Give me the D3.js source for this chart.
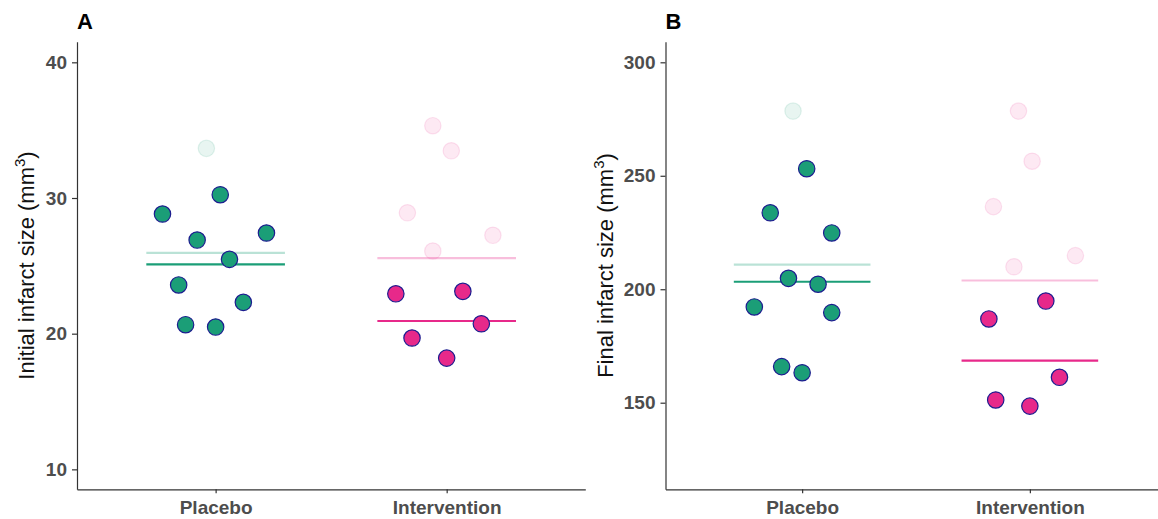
<!DOCTYPE html>
<html>
<head>
<meta charset="utf-8">
<script src="https://cdn.jsdelivr.net/npm/d3@7.9.0/dist/d3.min.js"></script>
<style>
  body { margin: 0; background: #fff; }
  svg { display: block; font-family: "Liberation Sans", Arial, sans-serif; }
  .axis path, .axis line { stroke: #333; stroke-width: 1.2; }
  .axis text { fill: #4d4d4d; font-size: 19px; font-weight: bold; }
</style>
</head>
<body>
<svg id="chart" width="1158" height="519"></svg>
<script>
const groups = ["Placebo", "Intervention"];
const groupColors = ["#1b9e77", "#e7298a"];

// panel A - initial infarct size
const initialPlacebo = [33.66, 30.24, 28.82, 26.90, 27.42, 25.48, 23.59, 22.31, 20.66, 20.49];
const initialPlaceboJitter = [-0.04, 0.02, -0.23, -0.08, 0.22, 0.06, -0.16, 0.12, -0.13, 0.0];
const initialIntervention = [35.33, 33.48, 28.91, 27.25, 26.09, 22.94, 23.12, 20.73, 19.68, 18.20];
const initialInterventionJitter = [-0.06, 0.02, -0.17, 0.20, -0.06, -0.22, 0.07, 0.15, -0.15, 0.0];

// panel B - final infarct size
const finalPlacebo = [278.5, 253.1, 233.7, 224.8, 204.8, 202.2, 192.2, 189.7, 165.9, 163.2];
const finalPlaceboJitter = [-0.04, 0.02, -0.14, 0.13, -0.06, 0.07, -0.21, 0.13, -0.09, 0.0];
const finalIntervention = [278.5, 256.4, 236.4, 214.8, 209.9, 194.8, 186.9, 161.2, 151.2, 148.5];
const finalInterventionJitter = [-0.05, 0.01, -0.16, 0.20, -0.07, 0.07, -0.18, 0.13, -0.15, 0.0];

// 1 = excluded animal (faded)
const placeboExcluded = [1, 0, 0, 0, 0, 0, 0, 0, 0, 0];
const interventionExcluded = [1, 1, 1, 1, 1, 0, 0, 0, 0, 0];

const initialTicks = [10, 20, 30, 40];
const finalTicks = [150, 200, 250, 300];

const svg = d3.select("#chart");

function drawPanel(opts) {
  const x = d3.scaleLinear().domain([0.4, 2.6]).range([opts.left, opts.right]);
  const y = d3.scaleLinear().domain(opts.yDomain).range([489.3, 41.7]);
  const g = svg.append("g");

  const sets = [
    { values: opts.placebo, jitter: opts.placeboJitter, excl: placeboExcluded },
    { values: opts.intervention, jitter: opts.interventionJitter, excl: interventionExcluded }
  ];

  // mean lines (all animals faded, kept animals solid)
  sets.forEach((s, i) => {
    const col = groupColors[i];
    const allMean = d3.mean(s.values);
    const keptMean = d3.mean(s.values.filter((v, k) => !s.excl[k]));
    g.append("line")
      .attr("x1", x(i + 1 - 0.3)).attr("x2", x(i + 1 + 0.3))
      .attr("y1", y(allMean)).attr("y2", y(allMean))
      .attr("stroke", col).attr("stroke-opacity", 0.3).attr("stroke-width", 2.2);
    g.append("line")
      .attr("x1", x(i + 1 - 0.3)).attr("x2", x(i + 1 + 0.3))
      .attr("y1", y(keptMean)).attr("y2", y(keptMean))
      .attr("stroke", col).attr("stroke-width", 2.2);
  });

  sets.forEach((s, i) => {
    const col = groupColors[i];
    s.values.forEach((v, k) => {
      const c = g.append("circle")
        .attr("cx", x(i + 1 + s.jitter[k]))
        .attr("cy", y(v))
        .attr("r", 8.2);
      if (s.excl[k]) {
        c.attr("fill", col).attr("fill-opacity", 0.1)
          .attr("stroke", col).attr("stroke-opacity", 0.12).attr("stroke-width", 1.2);
      } else {
        c.attr("fill", col).attr("stroke", "#1c1c8f").attr("stroke-width", 1.2);
      }
    });
  });

  // axes
  g.append("g")
    .attr("class", "axis")
    .attr("transform", `translate(${opts.left},0)`)
    .call(d3.axisLeft(y).tickValues(opts.ticks).tickSize(5).tickSizeOuter(0).tickPadding(5));

  g.append("g")
    .attr("class", "axis")
    .attr("transform", "translate(0,489.3)")
    .call(d3.axisBottom(x).tickValues([1, 2]).tickFormat(d => groups[d - 1])
      .tickSize(4).tickSizeOuter(0).tickPadding(7.5));

  // y title with superscript
  const t = g.append("text")
    .attr("transform", `translate(${opts.titleX},265.5) rotate(-90)`)
    .attr("text-anchor", "middle")
    .attr("font-size", 22)
    .attr("fill", "#111");
  t.append("tspan").text(opts.title + " (mm");
  t.append("tspan").attr("dy", -9).attr("font-size", 15).text("3");
  t.append("tspan").attr("dy", 9).text(")");

  // panel tag
  g.append("text")
    .attr("x", opts.left)
    .attr("y", 29)
    .attr("font-size", 22)
    .attr("font-weight", "bold")
    .attr("fill", "#000")
    .text(opts.tag);
}

drawPanel({
  tag: "A", left: 77, right: 585.3, yDomain: [8.53, 41.52], ticks: initialTicks,
  placebo: initialPlacebo, placeboJitter: initialPlaceboJitter,
  intervention: initialIntervention, interventionJitter: initialInterventionJitter,
  title: "Initial infarct size", titleX: 33.5
});

drawPanel({
  tag: "B", left: 665.5, right: 1166.5, yDomain: [111.84, 309.08], ticks: finalTicks,
  placebo: finalPlacebo, placeboJitter: finalPlaceboJitter,
  intervention: finalIntervention, interventionJitter: finalInterventionJitter,
  title: "Final infarct size", titleX: 612.5
});
</script>
</body>
</html>
